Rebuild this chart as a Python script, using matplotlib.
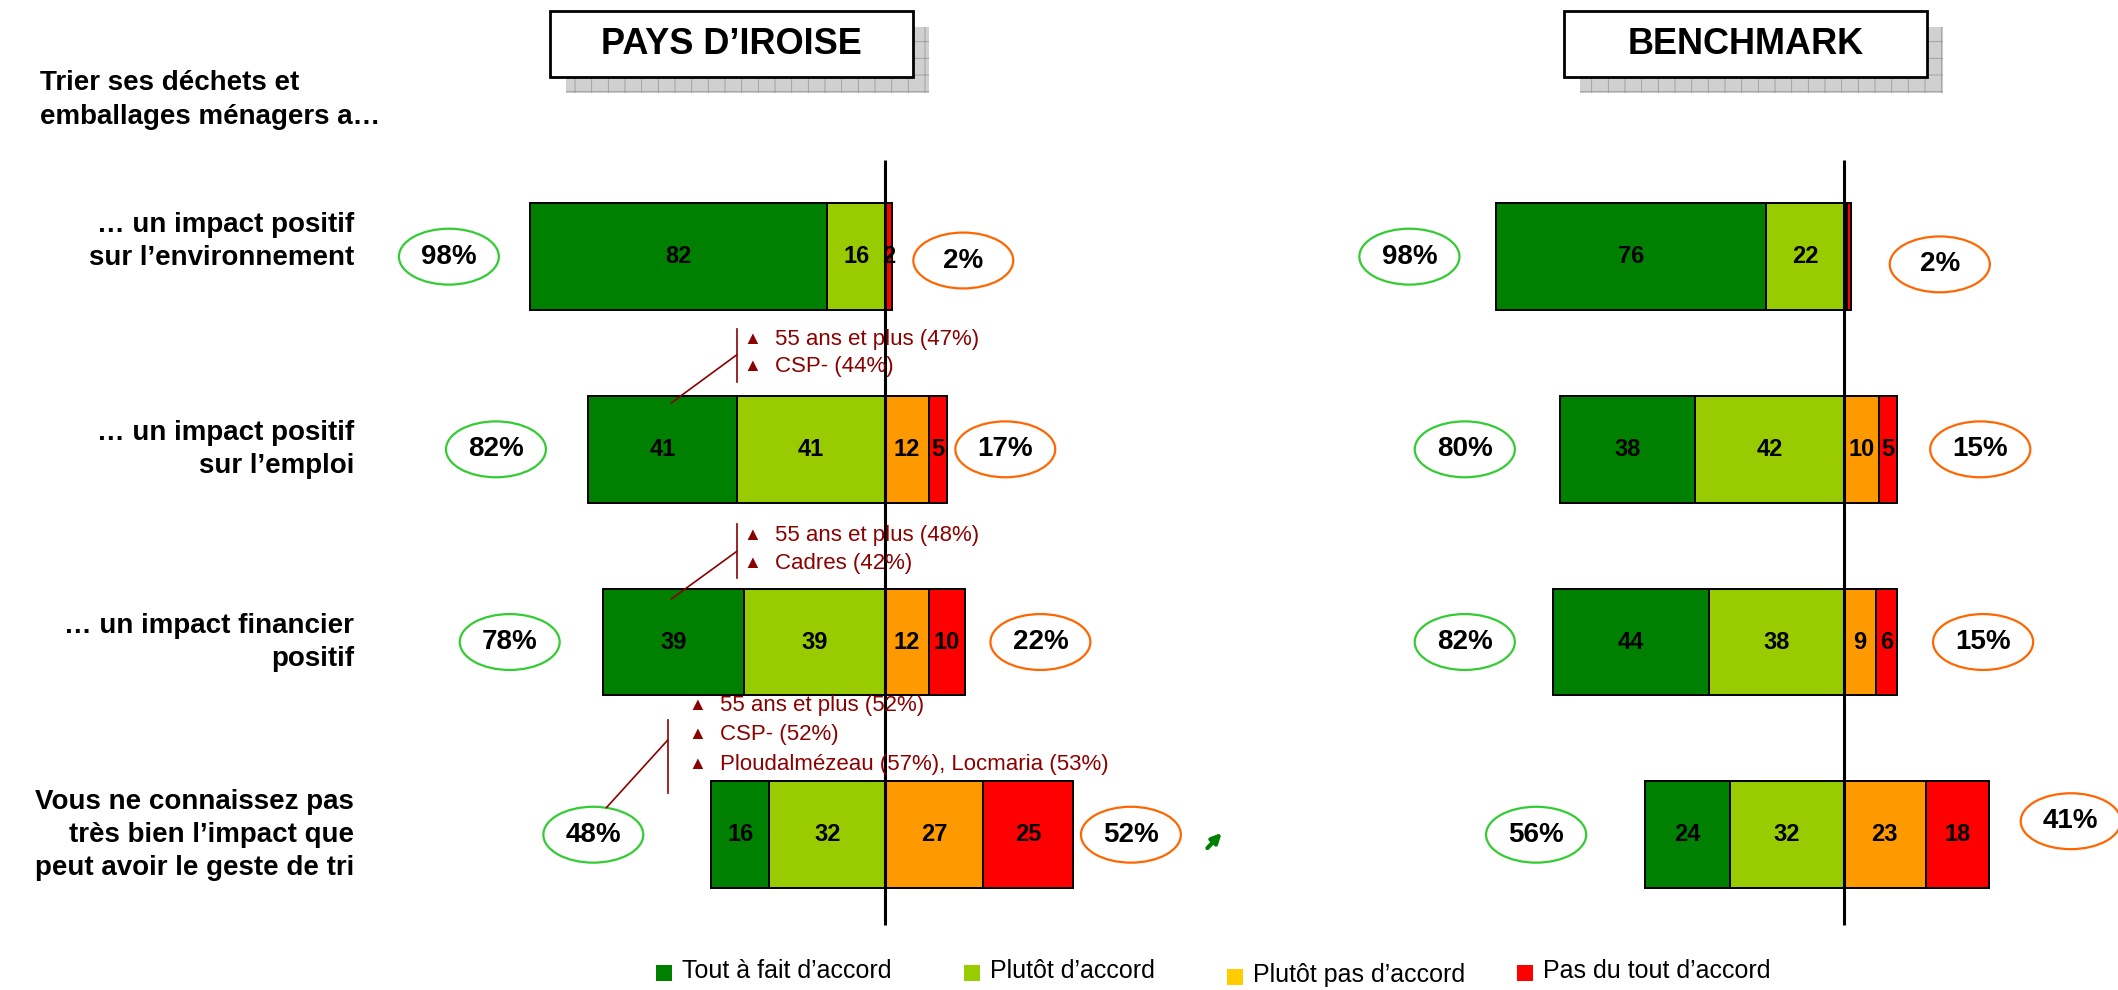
import matplotlib
matplotlib.use('Agg')
import matplotlib.pyplot as plt
from matplotlib.patches import Ellipse, Rectangle

plt.rcParams['font.family'] = ['Liberation Sans', 'DejaVu Sans']
plt.rcParams['hatch.linewidth'] = 0.6

# données
categories = ["… un impact positif\nsur l’environnement",
              "… un impact positif\nsur l’emploi",
              "… un impact financier\npositif",
              "Vous ne connaissez pas\ntrès bien l’impact que\npeut avoir le geste de tri"]
series_names = ["Tout à fait d’accord", "Plutôt d’accord", "Plutôt pas d’accord", "Pas du tout d’accord"]

iroise_tout = [82, 41, 39, 16]
iroise_plutot = [16, 41, 39, 32]
iroise_plutot_pas = [0, 12, 12, 27]
iroise_pas_du_tout = [2, 5, 10, 25]

bench_tout = [76, 38, 44, 24]
bench_plutot = [22, 42, 38, 32]
bench_plutot_pas = [1, 10, 9, 23]
bench_pas_du_tout = [1, 5, 6, 18]

# sur-représentations (Pays d'Iroise)
annotations = {1: ["55 ans et plus (47%)", "CSP- (44%)"],
               2: ["55 ans et plus (48%)", "Cadres (42%)"],
               3: ["55 ans et plus (52%)", "CSP- (52%)", "Ploudalmézeau (57%), Locmaria (53%)"]}

bar_colors = ['#008000', '#99CC00', '#FF9900', '#FF0000']
legend_colors = ['#008000', '#99CC00', '#FFCC00', '#FF0000']
annot_color = '#8B0000'

W, H = 2118, 990
fig = plt.figure(figsize=(W / 100, H / 100), dpi=100)

ylim = (3.806, -1.332)
bar_h = 0.555

axL = fig.add_axes([0, 0, 1250 / W, 1])
axL.set_xlim(-244.5, 100.8)
axR = fig.add_axes([1250 / W, 0, 868 / W, 1])
axR.set_xlim(-167.3, 77.2)
for ax in (axL, axR):
    ax.set_ylim(*ylim)
    ax.axis('off')


def draw_panel(ax, tout, plutot, plutot_pas, pas, green_off, orange_off, orange_dy, ell_w):
    rows = list(range(len(tout)))
    agree = [a + b for a, b in zip(tout, plutot)]
    disagree = [a + b for a, b in zip(plutot_pas, pas)]
    lefts = [-a for a in agree]
    for vals, col in zip([tout, plutot, plutot_pas, pas], bar_colors):
        ax.barh(rows, vals, left=lefts, height=bar_h, color=col, edgecolor='black',
                linewidth=1.4, zorder=2)
        for r, v, l in zip(rows, vals, lefts):
            if v >= 2:
                ax.text(l + v / 2, r, str(v), ha='center', va='center', fontsize=17,
                        weight='bold', zorder=4)
        lefts = [l + v for l, v in zip(lefts, vals)]
    ax.vlines(0, -0.5, 3.47, color='black', lw=2.2, zorder=3)
    for r in rows:
        gx = -agree[r] + green_off[r]
        ax.add_patch(Ellipse((gx, r), ell_w, 0.29, facecolor='white', edgecolor='#33CC33',
                             lw=1.6, zorder=3))
        ax.text(gx, r, f"{agree[r]}%", ha='center', va='center', fontsize=20, weight='bold', zorder=4)
        ox = disagree[r] + orange_off[r]
        oy = r + orange_dy[r]
        ax.add_patch(Ellipse((ox, oy), ell_w, 0.29, facecolor='white', edgecolor='#FF6600',
                             lw=1.6, zorder=3))
        ax.text(ox, oy, f"{disagree[r]}%", ha='center', va='center', fontsize=20, weight='bold', zorder=4)


draw_panel(axL, iroise_tout, iroise_plutot, iroise_plutot_pas, iroise_pas_du_tout,
           [-22.5, -25.5, -25.7, -32.6], [19.6, 16.2, 20.9, 15.9], [0.02, 0, 0, 0], 27.6)
draw_panel(axR, bench_tout, bench_plutot, bench_plutot_pas, bench_pas_du_tout,
           [-24.4, -26.8, -24.8, -30.7], [25, 23.4, 24.2, 22.9], [0.04, 0, 0, -0.07], 28.2)

# libellés des questions
for r, lab in enumerate(categories):
    axL.text(-146.7, r - (0.08 if r == 0 else 0), lab, ha='right', va='center', fontsize=20,
             weight='bold', linespacing=1.35)

# annotations
annot_layout = {1: dict(tri=-36.6, txt=-30.5, first=-0.571, step=0.14, bx=-41, b0=-0.627, b1=-0.347,
                        d0=(-41, -0.49), d1=(-59, -0.242)),
                2: dict(tri=-36.6, txt=-30.5, first=-0.553, step=0.147, bx=-41, b0=-0.61, b1=-0.33,
                        d0=(-41, -0.47), d1=(-59, -0.224)),
                3: dict(tri=-51.9, txt=-45.5, first=-0.673, step=0.155, bx=-60.1, b0=-0.596, b1=-0.217,
                        d0=(-60.1, -0.49), d1=(-77, -0.14))}
for r, lines in annotations.items():
    lay = annot_layout[r]
    for i, t in enumerate(lines):
        y = r + lay['first'] + i * lay['step']
        axL.text(lay['tri'], y, '▲', ha='center', va='center', fontsize=13, color=annot_color, zorder=5)
        axL.text(lay['txt'], y, t, ha='left', va='center', fontsize=16, color=annot_color, zorder=5)
    axL.plot([lay['bx'], lay['bx']], [r + lay['b0'], r + lay['b1']], color=annot_color, lw=1.2, zorder=5)
    axL.plot([lay['d0'][0], lay['d1'][0]], [r + lay['d0'][1], r + lay['d1'][1]], color=annot_color,
             lw=1.2, zorder=5)

# flèche verte (évolution)
axL.annotate('', xy=(93.5, 2.98), xytext=(88.5, 3.08),
             arrowprops=dict(arrowstyle='-|>', color='#008000', lw=3, mutation_scale=14))

# en-tête
fig.text(40 / W, 1 - 100 / H, "Trier ses déchets et\nemballages ménagers a…", ha='left', va='center',
         fontsize=20, weight='bold', linespacing=1.35)


def title_box(x0, y0, w, h, text):
    fig.add_artist(Rectangle(((x0 + 16) / W, 1 - (y0 + 16 + h) / H), w / W, h / H,
                             transform=fig.transFigure, facecolor='#D0D0D0', edgecolor='#9A9A9A',
                             hatch='+', lw=0))
    fig.add_artist(Rectangle((x0 / W, 1 - (y0 + h) / H), w / W, h / H, transform=fig.transFigure,
                             facecolor='white', edgecolor='black', lw=2))
    fig.text((x0 + w / 2) / W, 1 - (y0 + h / 2) / H, text, ha='center', va='center', fontsize=26,
             weight='bold')


title_box(550, 11, 363, 66, "PAYS D’IROISE")
title_box(1564, 11, 363, 66, "BENCHMARK")

# légende
leg_x = [656, 964, 1227, 1517]
leg_dy = [0, 0, 4, 0]
for x, name, col, dy in zip(leg_x, series_names, legend_colors, leg_dy):
    yc = 973 + dy
    fig.add_artist(Rectangle((x / W, 1 - (yc + 8) / H), 16 / W, 16 / H, transform=fig.transFigure,
                             facecolor=col, edgecolor='none'))
    fig.text((x + 26) / W, 1 - (yc - 2) / H, name, ha='left', va='center', fontsize=18)

fig.savefig('out.png', dpi=100)
